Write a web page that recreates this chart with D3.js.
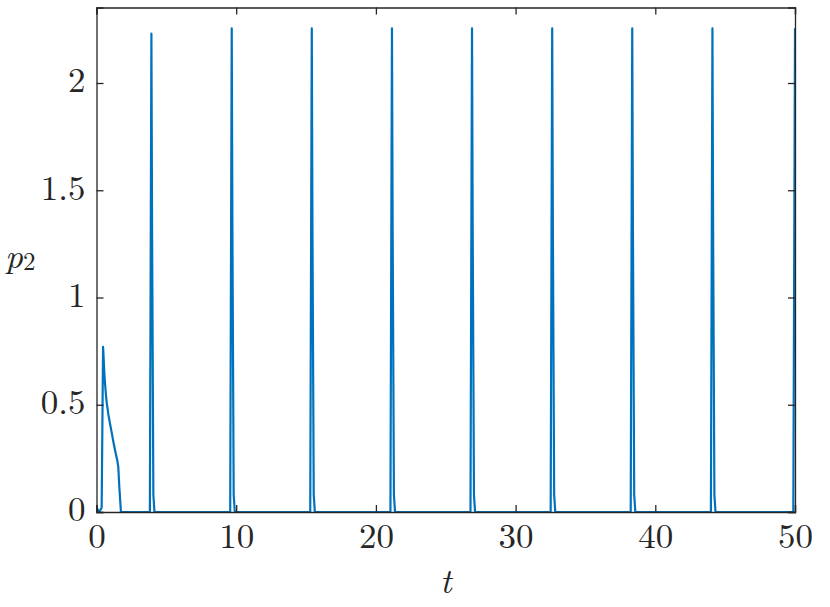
<!DOCTYPE html>
<html>
<head>
<meta charset="utf-8">
<script src="https://cdn.jsdelivr.net/npm/d3@7"></script>
<style>
  html, body { margin: 0; padding: 0; background: #fff; }
  svg { display: block; }
</style>
</head>
<body>
<svg id="chart" width="830" height="607"></svg>
<script>
// ---- data ----
const xTicks = [0, 10, 20, 30, 40, 50];
const yTicks = [0, 0.5, 1, 1.5, 2];
const yTickLabels = ["0", "0.5", "1", "1.5", "2"];
const xTickLabels = ["0", "10", "20", "30", "40", "50"];

// time samples
const tValues = [
  0, 0.1, 0.2, 0.37, 0.47, 0.51, 0.56, 0.61, 0.67, 0.73, 0.85, 0.97, 1.09, 1.2, 1.32, 1.42, 1.49, 1.56, 1.63, 1.75,
  3.82, 3.93, 3.98, 4.07, 4.15,
  9.57, 9.68, 9.73, 9.82, 9.9,
  15.30, 15.41, 15.46, 15.55, 15.63,
  21.04, 21.15, 21.20, 21.29, 21.37,
  26.77, 26.88, 26.93, 27.02, 27.10,
  32.51, 32.62, 32.67, 32.76, 32.84,
  38.24, 38.35, 38.40, 38.49, 38.57,
  43.98, 44.09, 44.14, 44.23, 44.31,
  49.88, 50.0
];
// p2 values
const p2Values = [
  0.02, 0.01, 0, 0.02, 0.77, 0.72, 0.65, 0.60, 0.55, 0.51, 0.455, 0.41, 0.37, 0.33, 0.29, 0.26, 0.24, 0.21, 0.12, 0,
  0, 2.23, 1.3, 0.08, 0,
  0, 2.255, 1.3, 0.08, 0,
  0, 2.255, 1.3, 0.08, 0,
  0, 2.255, 1.3, 0.08, 0,
  0, 2.255, 1.3, 0.08, 0,
  0, 2.255, 1.3, 0.08, 0,
  0, 2.255, 1.3, 0.08, 0,
  0, 2.255, 1.3, 0.08, 0,
  0, 2.255
];

// ---- layout ----
const svg = d3.select("#chart");
const pLeft = 96.5, pRight = 795, pTop = 7.5, pBottom = 512;
const x = d3.scaleLinear().domain([0, 50]).range([pLeft, pRight]);
const y = d3.scaleLinear().domain([0, 2.352]).range([pBottom, pTop]);
const axisColor = "#262626";
const FONT = "'Latin Modern Roman', 'Liberation Serif', serif";
const fontSize = 35;
const tickLen = 7;

svg.append("rect").attr("width", 830).attr("height", 607).attr("fill", "#fff");

svg.append("clipPath").attr("id", "clip")
  .append("rect").attr("x", pLeft).attr("y", pTop).attr("width", pRight - pLeft).attr("height", pBottom - pTop);

const data = tValues.map((t, i) => ({ t, v: p2Values[i] }));
const line = d3.line().x(d => x(d.t)).y(d => y(d.v));

svg.append("path")
  .datum(data)
  .attr("clip-path", "url(#clip)")
  .attr("d", line)
  .attr("fill", "none")
  .attr("stroke", "#0072BD")
  .attr("stroke-width", 2.2)
  .attr("stroke-linejoin", "round");

// axes (ticks inward, mirrored on top/right)
const bottomAxis = d3.axisBottom(x).tickValues(xTicks).tickSize(-tickLen).tickFormat((d, i) => xTickLabels[i]);
const topAxis = d3.axisTop(x).tickValues(xTicks).tickSize(-tickLen).tickFormat("");
const leftAxis = d3.axisLeft(y).tickValues(yTicks).tickSize(-tickLen).tickFormat((d, i) => yTickLabels[i]).tickPadding(11);
const rightAxis = d3.axisRight(y).tickValues(yTicks).tickSize(-tickLen).tickFormat("");

function style(g) {
  g.attr("font-family", null).attr("font-size", null);
  g.selectAll("path.domain").attr("stroke", axisColor).attr("stroke-width", 1.3);
  g.selectAll(".tick line").attr("stroke", axisColor).attr("stroke-width", 1.3);
  g.selectAll(".tick text").style("font-family", FONT)
    .style("font-size", fontSize + "px").attr("fill", axisColor);
}

svg.append("g").attr("transform", `translate(0,${pBottom})`).call(bottomAxis).call(style)
  .selectAll(".tick text").attr("y", 36).attr("dy", 0);
svg.append("g").attr("transform", `translate(0,${pTop})`).call(topAxis).call(style);
svg.append("g").attr("transform", `translate(${pLeft},0)`).call(leftAxis).call(style)
  .selectAll(".tick text").attr("dy", "0.25em");
svg.append("g").attr("transform", `translate(${pRight},0)`).call(rightAxis).call(style);

// axis titles
svg.append("text")
  .attr("x", (pLeft + pRight) / 2).attr("y", 593)
  .attr("text-anchor", "middle")
  .style("font-family", FONT).style("font-size", fontSize + "px").style("font-style", "italic")
  .attr("fill", axisColor)
  .text("t");

const yl = svg.append("text").attr("x", 5).attr("y", 268)
  .style("font-family", FONT).style("font-size", fontSize + "px").attr("fill", axisColor);
yl.append("tspan").style("font-style", "italic").text("p");
yl.append("tspan").style("font-size", "25px").attr("dy", 2).text("2");
</script>
</body>
</html>
